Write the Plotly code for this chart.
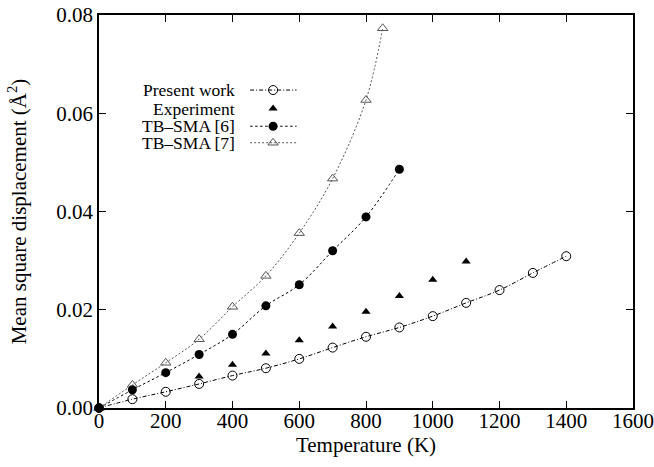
import plotly.graph_objects as go

# ---- data ----
t_present = [0, 100, 200, 300, 400, 500, 600, 700, 800, 900, 1000, 1100, 1200, 1300, 1400]
msd_present = [0.0, 0.0018, 0.0033, 0.0049, 0.0066, 0.0081, 0.0100, 0.0123, 0.0145, 0.0164, 0.0187, 0.0214, 0.0240, 0.0275, 0.0309]

t_exp = [300, 400, 500, 600, 700, 800, 900, 1000, 1100]
msd_exp = [0.0064, 0.0088, 0.0111, 0.0138, 0.0166, 0.0196, 0.0228, 0.0261, 0.0298]

t_tb6 = [0, 100, 200, 300, 400, 500, 600, 700, 800, 900]
msd_tb6 = [0.0, 0.0037, 0.0072, 0.0109, 0.0150, 0.0208, 0.0251, 0.0320, 0.0389, 0.0486]

t_tb7 = [0, 100, 200, 300, 400, 500, 600, 700, 800, 850]
msd_tb7 = [0.0, 0.0047, 0.0092, 0.0140, 0.0206, 0.0269, 0.0356, 0.0467, 0.0627, 0.0773]

legend_labels = ["Present work", "Experiment", "TB\u2013SMA [6]", "TB\u2013SMA [7]"]

x_ticks = [0, 200, 400, 600, 800, 1000, 1200, 1400, 1600]
y_ticks = [0.00, 0.02, 0.04, 0.06, 0.08]

FONT = "Liberation Serif, Times New Roman, serif"
GRAY = "#555555"

styles = [
    dict(mode="lines+markers", line=dict(color="black", width=1, dash="4px,2px,1px,2px", shape="spline"),
         marker=dict(symbol="circle-open", size=9, color="black", line=dict(width=1))),
    dict(mode="markers", marker=dict(symbol="triangle-up", size=8, color="black")),
    dict(mode="lines+markers", line=dict(color="black", width=1, dash="2.5px,2.5px", shape="spline"),
         marker=dict(symbol="circle", size=9, color="black")),
    dict(mode="lines+markers", line=dict(color=GRAY, width=1, dash="2px,2px", shape="spline"),
         marker=dict(symbol="triangle-up-open", size=9, color=GRAY, line=dict(width=1))),
]

fig = go.Figure()
series = [(t_present, msd_present), (t_exp, msd_exp), (t_tb6, msd_tb6), (t_tb7, msd_tb7)]
# draw in back-to-front order
for i in [3, 2, 0, 1]:
    x, y = series[i]
    fig.add_trace(go.Scatter(x=x, y=y, name=legend_labels[i], showlegend=False,
                             cliponaxis=False, **styles[i]))

# custom legend (text on the left, samples on the right) on an overlay axis in [0,1]
leg_y = [0.809, 0.762, 0.717, 0.675]
for i in range(4):
    st = styles[i]
    if "lines" in st["mode"]:
        fig.add_trace(go.Scatter(x=[0.283, 0.370], y=[leg_y[i], leg_y[i]], mode="lines",
                                 line=st["line"], xaxis="x2", yaxis="y2", showlegend=False,
                                 hoverinfo="skip"))
    fig.add_trace(go.Scatter(x=[0.326], y=[leg_y[i]], mode="markers", marker=st["marker"],
                             xaxis="x2", yaxis="y2", showlegend=False, hoverinfo="skip"))
    fig.add_annotation(x=0.257, y=leg_y[i], xref="x2", yref="y2", text=legend_labels[i],
                       showarrow=False, xanchor="right", yanchor="middle", borderpad=0,
                       font=dict(family=FONT, size=17.5, color="black"))

axis_common = dict(showline=True, linecolor="black", linewidth=1.5, mirror="ticks",
                   ticks="inside", ticklen=7, tickwidth=1.2, tickcolor="black",
                   showgrid=False, zeroline=False, automargin=False,
                   tickfont=dict(family=FONT, size=21, color="black"))

fig.update_layout(
    width=654, height=467,
    margin=dict(l=99, r=21, t=15, b=59),
    paper_bgcolor="white", plot_bgcolor="white",
    xaxis=dict(range=[0, 1600], tickvals=x_ticks, ticktext=[str(v) for v in x_ticks],
               ticklabelstandoff=-7,
               title=dict(text="Temperature (K)", font=dict(family=FONT, size=21, color="black"),
                          standoff=2),
               **axis_common),
    yaxis=dict(range=[0, 0.08], tickvals=y_ticks, ticktext=[f"{v:.2f}" for v in y_ticks],
               title=dict(text="Mean square displacement (\u00c5<sup>2</sup>)",
                          font=dict(family=FONT, size=21, color="black"), standoff=24),
               **axis_common),
    xaxis2=dict(range=[0, 1], overlaying="x", visible=False, fixedrange=True),
    yaxis2=dict(range=[0, 1], overlaying="y", visible=False, fixedrange=True),
    showlegend=False,
)

fig.write_html("out.html", config={"displayModeBar": False},
               post_script="document.body.style.margin='0';document.body.style.overflow='hidden';")
